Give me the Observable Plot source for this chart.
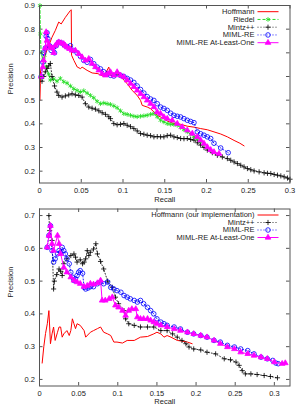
<!DOCTYPE html>
<html>
<head>
<meta charset="utf-8">
<script src="https://cdn.jsdelivr.net/npm/d3@7"></script>
<script src="https://cdn.jsdelivr.net/npm/@observablehq/plot@0.6"></script>
<style>
  body { margin: 0; background: #fff; overflow: hidden; }
  #chart svg { display: block; }
</style>
</head>
<body>
<div id="chart"></div>
<script>
// ---- Precision / recall curves, held-out evaluation (upper panel) ----
const topHoffmann = [[0.0005,0.50],[0.001,0.57],[0.0012,0.626],[0.0044,0.654],[0.0072,0.696],[0.0112,0.731],[0.015,0.766],[0.019,0.795],[0.023,0.83],[0.026,0.822],[0.031,0.85],[0.037,0.879],[0.038,0.882],[0.0384,0.69],[0.0412,0.668],[0.0452,0.64],[0.0492,0.633],[0.051,0.64],[0.057,0.626],[0.063,0.615],[0.07,0.612],[0.077,0.6],[0.083,0.64],[0.085,0.605],[0.092,0.61],[0.098,0.6],[0.101,0.584],[0.105,0.57],[0.111,0.541],[0.117,0.52],[0.121,0.499],[0.123,0.478],[0.129,0.471],[0.133,0.464],[0.141,0.436],[0.149,0.422],[0.153,0.412],[0.161,0.401],[0.169,0.398],[0.177,0.39],[0.185,0.386],[0.193,0.38],[0.201,0.375],[0.209,0.366],[0.217,0.357],[0.225,0.345],[0.233,0.33],[0.24,0.318],[0.245,0.307]];
const topRiedel = [[0.0005,0.9],[0.001,0.78],[0.002,0.70],[0.004,0.67],[0.006,0.69],[0.008,0.64],[0.011,0.61],[0.013,0.585],[0.017,0.59],[0.021,0.58],[0.025,0.592],[0.029,0.578],[0.033,0.572],[0.037,0.56],[0.041,0.548],[0.045,0.541],[0.049,0.535],[0.053,0.54],[0.057,0.53],[0.061,0.52],[0.065,0.51],[0.069,0.495],[0.073,0.485],[0.077,0.488],[0.081,0.485],[0.085,0.482],[0.089,0.476],[0.093,0.468],[0.097,0.455],[0.101,0.443],[0.105,0.44],[0.109,0.436],[0.113,0.432],[0.117,0.43],[0.121,0.432],[0.125,0.434],[0.129,0.436],[0.133,0.44],[0.137,0.443],[0.141,0.43],[0.145,0.415],[0.149,0.408],[0.153,0.401],[0.157,0.398],[0.161,0.397],[0.165,0.394],[0.169,0.385],[0.173,0.375],[0.177,0.366],[0.181,0.356],[0.185,0.345],[0.189,0.335],[0.193,0.324]];
const topMintz = [[0.003,0.58],[0.005,0.6],[0.007,0.62],[0.009,0.634],[0.011,0.645],[0.013,0.655],[0.015,0.6],[0.018,0.56],[0.021,0.534],[0.023,0.52],[0.027,0.513],[0.031,0.518],[0.035,0.522],[0.039,0.527],[0.043,0.522],[0.047,0.52],[0.051,0.513],[0.055,0.485],[0.059,0.471],[0.063,0.466],[0.067,0.462],[0.071,0.455],[0.075,0.447],[0.079,0.44],[0.083,0.43],[0.085,0.422],[0.089,0.401],[0.093,0.396],[0.097,0.398],[0.101,0.401],[0.105,0.394],[0.109,0.388],[0.113,0.38],[0.117,0.37],[0.121,0.359],[0.125,0.356],[0.129,0.352],[0.133,0.35],[0.137,0.345],[0.141,0.346],[0.145,0.345],[0.149,0.345],[0.153,0.35],[0.157,0.352],[0.161,0.345],[0.165,0.342],[0.169,0.338],[0.173,0.337],[0.177,0.338],[0.181,0.334],[0.185,0.331],[0.189,0.32],[0.193,0.31],[0.197,0.3],[0.201,0.289],[0.207,0.278],[0.213,0.267],[0.219,0.26],[0.225,0.253],[0.229,0.246],[0.233,0.239],[0.237,0.232],[0.241,0.225],[0.245,0.218],[0.249,0.211],[0.253,0.206],[0.257,0.201],[0.263,0.197],[0.269,0.193],[0.273,0.191],[0.277,0.19],[0.281,0.186],[0.285,0.183],[0.289,0.18],[0.293,0.176],[0.297,0.171],[0.3,0.166]];
const topMimlRe = [[0.002,0.6],[0.004,0.66],[0.005,0.7],[0.007,0.72],[0.008,0.77],[0.009,0.785],[0.01,0.76],[0.012,0.73],[0.014,0.71],[0.016,0.72],[0.018,0.7],[0.02,0.73],[0.023,0.745],[0.026,0.742],[0.029,0.735],[0.033,0.725],[0.037,0.73],[0.041,0.71],[0.045,0.7],[0.049,0.685],[0.053,0.668],[0.057,0.66],[0.061,0.672],[0.065,0.654],[0.069,0.64],[0.073,0.632],[0.077,0.62],[0.081,0.61],[0.085,0.605],[0.089,0.602],[0.093,0.612],[0.097,0.605],[0.101,0.6],[0.105,0.592],[0.109,0.585],[0.113,0.575],[0.117,0.56],[0.121,0.545],[0.125,0.53],[0.129,0.515],[0.133,0.505],[0.137,0.499],[0.141,0.485],[0.145,0.471],[0.149,0.465],[0.153,0.457],[0.157,0.445],[0.161,0.436],[0.165,0.432],[0.169,0.429],[0.173,0.422],[0.177,0.415],[0.181,0.41],[0.185,0.405],[0.189,0.366],[0.193,0.358],[0.197,0.352],[0.201,0.345],[0.205,0.338],[0.209,0.318],[0.217,0.298],[0.226,0.278]];
const topAtLeastOne = [[0.002,0.6],[0.004,0.64],[0.005,0.668],[0.007,0.72],[0.008,0.788],[0.009,0.752],[0.011,0.735],[0.013,0.724],[0.015,0.72],[0.017,0.70],[0.019,0.731],[0.021,0.74],[0.023,0.745],[0.026,0.742],[0.029,0.738],[0.031,0.73],[0.033,0.724],[0.036,0.717],[0.039,0.71],[0.043,0.71],[0.047,0.696],[0.051,0.682],[0.055,0.668],[0.059,0.675],[0.063,0.654],[0.067,0.64],[0.071,0.626],[0.075,0.612],[0.079,0.605],[0.082,0.612],[0.085,0.619],[0.089,0.605],[0.093,0.619],[0.097,0.605],[0.101,0.598],[0.105,0.584],[0.109,0.57],[0.113,0.556],[0.117,0.541],[0.121,0.527],[0.125,0.513],[0.129,0.499],[0.133,0.485],[0.137,0.471],[0.141,0.45],[0.145,0.443],[0.149,0.429],[0.153,0.422],[0.159,0.415],[0.165,0.401],[0.171,0.387],[0.177,0.373],[0.183,0.359],[0.189,0.345],[0.193,0.331],[0.197,0.317],[0.201,0.302],[0.205,0.29],[0.209,0.281],[0.215,0.274]];

// ---- Lower panel ----
const botHoffmann = [[0.0034,0.25],[0.0055,0.3],[0.0077,0.34],[0.01,0.37],[0.012,0.41],[0.014,0.309],[0.016,0.339],[0.018,0.36],[0.02,0.319],[0.023,0.344],[0.025,0.36],[0.027,0.36],[0.029,0.329],[0.031,0.339],[0.035,0.349],[0.038,0.334],[0.04,0.349],[0.042,0.385],[0.044,0.37],[0.046,0.355],[0.048,0.37],[0.052,0.365],[0.057,0.349],[0.059,0.329],[0.065,0.344],[0.069,0.349],[0.074,0.355],[0.078,0.36],[0.082,0.344],[0.087,0.339],[0.091,0.334],[0.095,0.314],[0.099,0.314],[0.106,0.311],[0.112,0.319],[0.121,0.319],[0.129,0.329],[0.138,0.331],[0.146,0.339],[0.15,0.344],[0.155,0.339],[0.159,0.329],[0.163,0.334],[0.168,0.329],[0.176,0.319],[0.182,0.317],[0.189,0.314],[0.195,0.309]];
const botMintz = [[0.012,0.7],[0.013,0.654],[0.016,0.624],[0.018,0.476],[0.019,0.5],[0.022,0.52],[0.025,0.537],[0.027,0.53],[0.029,0.517],[0.031,0.553],[0.035,0.568],[0.04,0.578],[0.044,0.583],[0.046,0.573],[0.048,0.558],[0.052,0.565],[0.055,0.553],[0.057,0.558],[0.059,0.568],[0.061,0.593],[0.063,0.578],[0.065,0.588],[0.069,0.598],[0.072,0.614],[0.074,0.583],[0.078,0.56],[0.082,0.537],[0.087,0.5],[0.093,0.481],[0.097,0.451],[0.101,0.431],[0.108,0.41],[0.11,0.385],[0.114,0.37],[0.121,0.365],[0.129,0.36],[0.138,0.36],[0.146,0.36],[0.155,0.349],[0.163,0.349],[0.17,0.339],[0.176,0.329],[0.182,0.319],[0.187,0.309],[0.191,0.299],[0.197,0.293],[0.206,0.29],[0.214,0.283],[0.225,0.278],[0.236,0.263],[0.244,0.26],[0.251,0.253],[0.255,0.243],[0.259,0.227],[0.263,0.217],[0.27,0.217],[0.278,0.215],[0.287,0.212],[0.295,0.209],[0.304,0.205]];
const botMimlRe = [[0.0098,0.603],[0.012,0.639],[0.014,0.669],[0.016,0.593],[0.018,0.558],[0.02,0.568],[0.023,0.583],[0.025,0.593],[0.027,0.588],[0.029,0.603],[0.031,0.593],[0.033,0.583],[0.035,0.568],[0.038,0.553],[0.04,0.527],[0.042,0.512],[0.044,0.502],[0.046,0.507],[0.048,0.517],[0.05,0.527],[0.052,0.532],[0.055,0.524],[0.057,0.481],[0.059,0.476],[0.062,0.479],[0.065,0.483],[0.069,0.483],[0.074,0.492],[0.078,0.497],[0.082,0.492],[0.087,0.497],[0.091,0.481],[0.095,0.476],[0.099,0.471],[0.104,0.466],[0.108,0.456],[0.112,0.451],[0.116,0.446],[0.121,0.441],[0.125,0.436],[0.129,0.441],[0.133,0.431],[0.138,0.42],[0.142,0.41],[0.146,0.4],[0.15,0.385],[0.155,0.375],[0.159,0.37],[0.163,0.365],[0.172,0.36],[0.18,0.354],[0.189,0.344],[0.197,0.339],[0.206,0.334],[0.214,0.329],[0.223,0.319],[0.231,0.314],[0.24,0.304],[0.249,0.299],[0.257,0.293],[0.266,0.288],[0.274,0.278],[0.283,0.268],[0.291,0.263],[0.298,0.258],[0.302,0.25],[0.305,0.248]];
const botAtLeastOne = [[0.0098,0.603],[0.012,0.639],[0.014,0.669],[0.016,0.614],[0.018,0.593],[0.023,0.639],[0.025,0.614],[0.027,0.583],[0.031,0.542],[0.035,0.527],[0.04,0.512],[0.044,0.502],[0.048,0.497],[0.052,0.492],[0.057,0.483],[0.061,0.486],[0.065,0.492],[0.069,0.49],[0.074,0.494],[0.078,0.502],[0.08,0.441],[0.084,0.441],[0.089,0.446],[0.093,0.451],[0.097,0.426],[0.101,0.42],[0.106,0.41],[0.11,0.395],[0.114,0.41],[0.118,0.415],[0.123,0.415],[0.125,0.39],[0.129,0.385],[0.133,0.385],[0.138,0.385],[0.142,0.38],[0.146,0.375],[0.15,0.37],[0.155,0.365],[0.163,0.36],[0.172,0.354],[0.18,0.349],[0.189,0.344],[0.197,0.339],[0.206,0.334],[0.214,0.329],[0.223,0.319],[0.231,0.309],[0.24,0.299],[0.249,0.293],[0.257,0.283],[0.266,0.278],[0.274,0.273],[0.283,0.268],[0.291,0.263],[0.3,0.253],[0.31,0.248],[0.314,0.25]];

// ---- Axis ticks and labels ----
const topXTicks = [0, 0.05, 0.1, 0.15, 0.2, 0.25, 0.3];
const topXLabels = ["0", "0.05", "0.1", "0.15", "0.2", "0.25", "0.3"];
const topYTicks = [0.2, 0.3, 0.4, 0.5, 0.6, 0.7, 0.8, 0.9];
const topYLabels = ["0.2", "0.3", "0.4", "0.5", "0.6", "0.7", "0.8", "0.9"];
const botXTicks = [0, 0.05, 0.1, 0.15, 0.2, 0.25, 0.3];
const botXLabels = ["0", "0.05", "0.1", "0.15", "0.2", "0.25", "0.3"];
const botYTicks = [0.2, 0.3, 0.4, 0.5, 0.6, 0.7];
const botYLabels = ["0.2", "0.3", "0.4", "0.5", "0.6", "0.7"];

const topNames = ["Hoffmann", "Riedel", "Mintz++", "MIML-RE", "MIML-RE At-Least-One"];
const botNames = ["Hoffmann (our implementation)", "Mintz++", "MIML-RE", "MIML-RE At-Least-One"];

// Line/point styles per method (gnuplot-like)
const FONT = "'Liberation Sans', Arial, Helvetica, sans-serif";
const FS = 7.5;
const styles = {
  hoffmann: {color: "#ff0000", width: 1, dash: null, symbol: null},
  riedel:   {color: "#22dd22", width: 1, dash: "3,2", symbol: "asterisk", d3sym: d3.symbolAsterisk, r: 2.2, fill: "none"},
  mintz:    {color: "#000000", width: 0.8, dash: "1,2", symbol: "plus", d3sym: d3.symbolPlus, r: 1.8, fill: "none"},
  mimlre:   {color: "#0000ff", width: 0.9, dash: "1,2", symbol: "circle", d3sym: d3.symbolCircle, r: 2.3, fill: "none"},
  atleast:  {color: "#ff00ff", width: 1, dash: null, symbol: "triangle", d3sym: d3.symbolTriangle, r: 2.1, fill: "#ff00ff"}
};

function seriesMarks(data, st) {
  const marks = [Plot.line(data, {x: d => d[0], y: d => d[1], stroke: st.color, strokeWidth: st.width, strokeDasharray: st.dash})];
  if (st.symbol) {
    marks.push(Plot.dot(data, {x: d => d[0], y: d => d[1], symbol: st.symbol, r: st.r,
      stroke: st.color, fill: st.fill, strokeWidth: 0.8}));
  }
  return marks;
}

// Key drawn inside the top-right corner of the frame
function keyMark(names, keys, offset, step) {
  return (index, scales, values, dims) => {
    const g = d3.create("svg:g").attr("font-family", FONT).attr("font-size", FS);
    const right = dims.width - dims.marginRight;
    names.forEach((name, i) => {
      const st = styles[keys[i]];
      const y = dims.marginTop + offset + i * step;
      g.append("text").attr("x", right - 35).attr("y", y).attr("dy", "0.32em")
        .attr("text-anchor", "end").attr("fill", "#222").text(name);
      g.append("line").attr("x1", right - 32).attr("x2", right - 11).attr("y1", y).attr("y2", y)
        .attr("stroke", st.color).attr("stroke-width", st.width)
        .attr("stroke-dasharray", st.dash);
      if (st.symbol) {
        g.append("path").attr("transform", `translate(${right - 21.5},${y})`)
          .attr("d", d3.symbol(st.d3sym, Math.PI * st.r * st.r)())
          .attr("fill", st.fill).attr("stroke", st.color).attr("stroke-width", 0.8);
      }
    });
    return g.node();
  };
}

function panel({series, keys, names, xDomain, yDomain, xTicks, xLabels, yTicks, yLabels,
                height, marginTop, marginBottom, keyOffset, keyStep, recallDy}) {
  const marginLeft = 39, marginRight = 6.5;
  const frameH = height - marginTop - marginBottom;
  const frameW = 296 - marginLeft - marginRight;
  const tickLen = 3.5;
  const tickStroke = "#555";
  const marks = [];
  series.forEach((data, i) => marks.push(...seriesMarks(data, styles[keys[i]])));
  marks.push(
    // inward ticks on all four sides
    Plot.tickX(xTicks, {x: d => d, insetTop: frameH - tickLen, stroke: tickStroke}),
    Plot.tickX(xTicks, {x: d => d, insetBottom: frameH - tickLen, stroke: tickStroke}),
    Plot.tickY(yTicks, {y: d => d, insetRight: frameW - tickLen, stroke: tickStroke}),
    Plot.tickY(yTicks, {y: d => d, insetLeft: frameW - tickLen, stroke: tickStroke}),
    Plot.frame({stroke: tickStroke, strokeWidth: 1}),
    Plot.axisX({ticks: xTicks, tickSize: 0, tickPadding: 4.5, label: null,
      tickFormat: d => xLabels[xTicks.indexOf(d)], fill: "#222"}),
    Plot.axisY({ticks: yTicks, tickSize: 0, tickPadding: 4.5, label: null,
      tickFormat: d => yLabels[yTicks.indexOf(d)], fill: "#222"}),
    Plot.text(["Recall"], {frameAnchor: "bottom", dy: recallDy, fill: "#222"}),
    Plot.text(["Precision"], {frameAnchor: "left", rotate: -90, dx: -29, fill: "#222"}),
    keyMark(names, keys, keyOffset, keyStep)
  );
  return Plot.plot({
    width: 296, height, marginTop, marginBottom, marginLeft, marginRight,
    x: {domain: xDomain, axis: null},
    y: {domain: yDomain, axis: null},
    style: {fontFamily: FONT, fontSize: FS + "px", background: "#fff", color: "#222", overflow: "visible"},
    marks
  });
}

const root = document.getElementById("chart");
root.append(panel({
  series: [topHoffmann, topRiedel, topMintz, topMimlRe, topAtLeastOne],
  keys: ["hoffmann", "riedel", "mintz", "mimlre", "atleast"],
  names: topNames,
  xDomain: [0, 0.3], yDomain: [0.15, 0.9],
  xTicks: topXTicks, xLabels: topXLabels, yTicks: topYTicks, yLabels: topYLabels,
  height: 204, marginTop: 5, marginBottom: 21.5, keyOffset: 6.7, keyStep: 7.75, recallDy: 18.5
}));
root.append(panel({
  series: [botHoffmann, botMintz, botMimlRe, botAtLeastOne],
  keys: ["hoffmann", "mintz", "mimlre", "atleast"],
  names: botNames,
  xDomain: [0, 0.32], yDomain: [0.18, 0.72],
  xTicks: botXTicks, xLabels: botXLabels, yTicks: botYTicks, yLabels: botYLabels,
  height: 200, marginTop: 4.5, marginBottom: 18.5, keyOffset: 6.5, keyStep: 7.5, recallDy: 17.5
}));
</script>
</body>
</html>
